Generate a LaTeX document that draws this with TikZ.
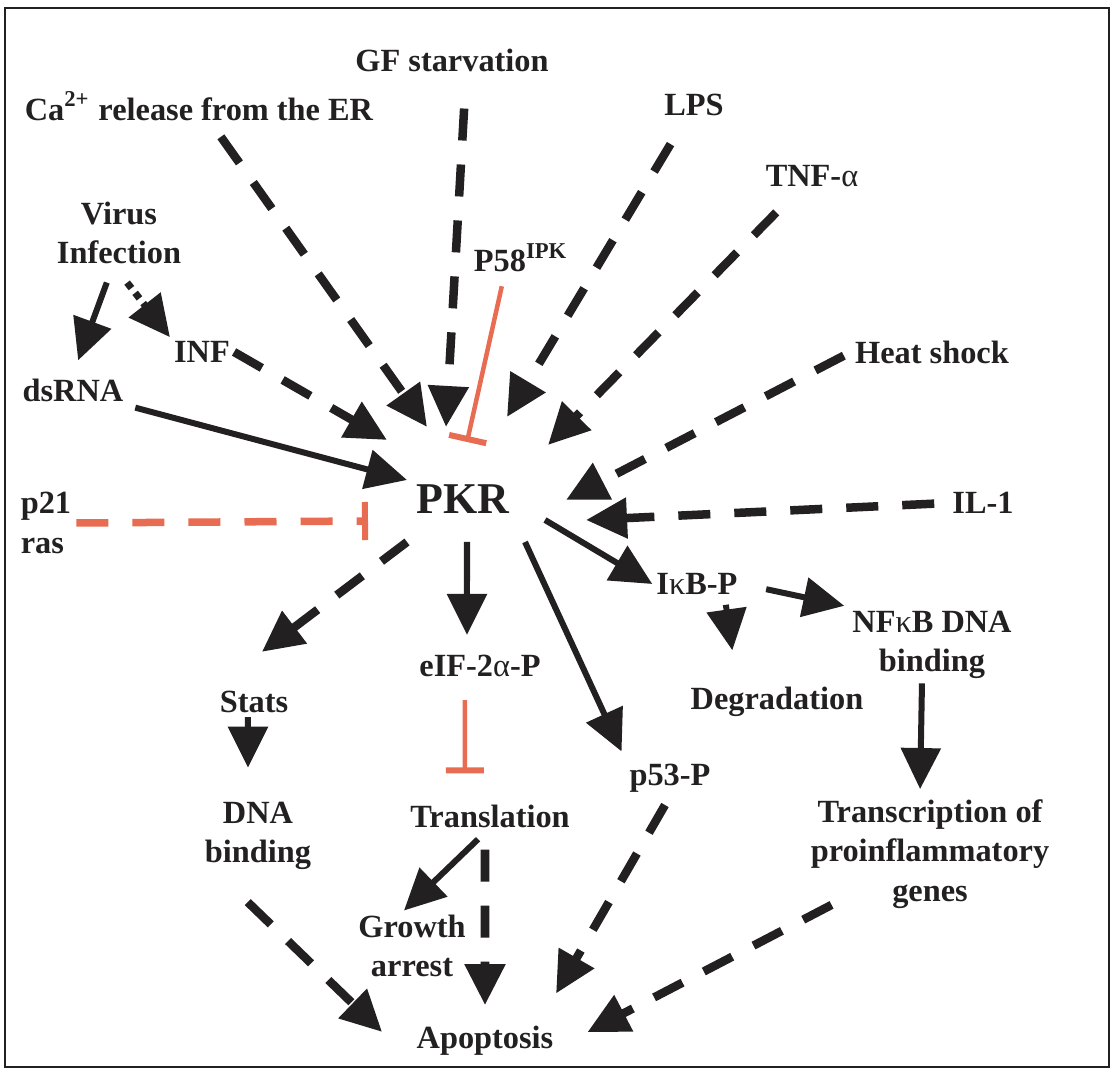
\documentclass[tikz,border=0pt]{standalone}
\usepackage{fontspec}
\setmainfont{Liberation Serif}
\usetikzlibrary{arrows.meta}
\definecolor{inhred}{RGB}{231,108,82}
\definecolor{ink}{RGB}{34,32,32}
\begin{document}
\begin{tikzpicture}[x=0.01cm,y=-0.01cm,
  lbl/.style={inner sep=1pt,text=ink,font=\fontsize{9.2}{11.3}\selectfont\bfseries,align=center},
  act/.style={draw=ink,line width=0.06cm,-{Triangle[length=0.41cm,width=0.39cm]}},
  dact/.style={act,line width=0.085cm,dash pattern=on 0.32cm off 0.24cm},
  dotact/.style={act,line width=0.07cm,dash pattern=on 0.07cm off 0.06cm},
  inh/.style={draw=inhred,line width=0.045cm,-{Bar[width=0.38cm,line width=0.06cm]}},
  dinh/.style={inh,line width=0.075cm,dash pattern=on 0.32cm off 0.24cm}]
\fill[white] (0,0) rectangle (1111,1071);
\useasboundingbox (0,0) rectangle (1111,1071);
\draw[line width=0.02cm,ink] (5,8) rectangle (1109,1067);
\node (ca) at (199,106) [lbl] {Ca\textsuperscript{2+} release from the ER};
\node (gf) at (452,60) [lbl] {GF starvation};
\node (lps) at (694,105) [lbl] {LPS};
\node (tnf) at (812,176) [lbl] {TNF-{\mdseries α}};
\node (vi) at (119,233) [lbl] {Virus\\Infection};
\node (inf) at (202,352) [lbl] {INF};
\node (ds) at (73,390) [lbl] {dsRNA};
\node (p58) at (521,258) [lbl] {P58\textsuperscript{IPK}};
\node (hs) at (932,352) [lbl] {Heat shock};
\node (pkr) at (463,499) [lbl,font=\fontsize{12.5}{14}\selectfont\bfseries] {PKR};
\node (il) at (983,503) [lbl] {IL-1};
\node (p21) at (46,523) [lbl,align=left] {p21\\ras};
\node (ikb) at (697,584) [lbl] {I{\mdseries κ}B-P};
\node (nf) at (932,645) [lbl] {NF{\mdseries κ}B DNA\\binding};
\node (eif) at (480,666) [lbl] {eIF-2{\mdseries α}-P};
\node (stats) at (254,702) [lbl] {Stats};
\node (deg) at (777,702) [lbl] {Degradation};
\node (p53) at (670,778) [lbl] {p53-P};
\node (dna) at (258,836) [lbl] {DNA\\binding};
\node (tl) at (490,816) [lbl] {Translation};
\node (tr) at (930,854) [lbl] {Transcription of\\proinflammatory\\genes};
\node (ga) at (412,946) [lbl] {Growth\\arrest};
\node (ap) at (485,1041) [lbl] {Apoptosis};
\coordinate (tCa) at (427,427);
\coordinate (tGF) at (446,427);
\coordinate (tP58) at (467,442);
\coordinate (tLPS) at (507,417);
\coordinate (tTNF) at (548,445);
\coordinate (tHS) at (566,500);
\coordinate (tIL) at (586,520);
\coordinate (tINF) at (387,440);
\coordinate (tDS) at (407,480);
\coordinate (tP21) at (368,521);
\coordinate (sSt) at (407,542);
\coordinate (sEif) at (467,542);
\coordinate (sP53) at (525,542);
\coordinate (sIkb) at (545,520);
\draw[dact,shorten <=0.15cm] (ca) -- (tCa);
\draw[dact,shorten <=0.33cm] ([xshift=0.14cm]gf.south) -- (tGF);
\draw[dact,shorten <=0.28cm] (lps) -- (tLPS);
\draw[dact,shorten <=0.3cm] (tnf) -- (tTNF);
\draw[dact,shorten <=0.08cm] (hs.west) -- (tHS);
\draw[dact,shorten <=0.14cm] (il.west) -- (tIL);
\draw[dact] (inf.east) -- (tINF);
\draw[act,shorten <=0.08cm] (ds.south east) -- (tDS);
\draw[act,shorten <=0.15cm,shorten >=0.15cm] ([xshift=-0.07cm]vi.south) -- (ds.north);
\draw[dotact,shorten <=0.18cm] ([xshift=-0.03cm]vi.south) -- (inf.north west);
\draw[inh,shorten <=0.1cm] ([xshift=-0.17cm]p58.south) -- (tP58);
\draw[dinh,shorten <=0.01cm] (p21.east) -- (tP21);
\draw[dact,shorten >=0.58cm] (sSt) -- (stats.north west);
\draw[act,shorten >=0.16cm] (sEif) -- ([xshift=-0.13cm]eif.north);
\draw[act,shorten >=0.09cm] (sP53) -- (p53.north west);
\draw[act] (sIkb) -- (ikb.west);
\draw[act,shorten <=0.25cm,shorten >=0.04cm] (ikb.east) -- (nf.north west);
\draw[act,shorten <=0.06cm,shorten >=0.33cm] ([xshift=0.28cm]ikb.south) -- ([xshift=-0.4cm]deg.north);
\draw[act,shorten >=0.06cm] ([xshift=-0.1cm]nf.south) -- ([xshift=-0.1cm]tr.north);
\draw[act,shorten >=0.3cm] ([xshift=-0.06cm]stats.south) -- ([xshift=-0.1cm]dna.north);
\draw[inh,shorten <=0.19cm,shorten >=0.27cm] ([xshift=-0.15cm]eif.south) -- ([xshift=-0.25cm]tl.north);
\draw[act,shorten <=0.11cm] ([xshift=-0.04cm]tl.south) -- ([xshift=-0.08cm]ga.north);
\draw[dact,shorten <=0.18cm,shorten >=0.17cm] ([xshift=-0.05cm]tl.south) -- (ap.north);
\draw[dact,shorten <=0.4cm,shorten >=0.13cm] ([xshift=-0.39cm]dna.south) -- ([xshift=-0.21cm]ap.west);
\draw[dact,shorten <=0.1cm,shorten >=0.33cm] (p53.south) -- ([xshift=-0.18cm]ap.north east);
\draw[dact,shorten >=0.19cm] ([xshift=0.25cm,yshift=0.08cm]tr.south west) -- ([xshift=0.13cm]ap.east);
\end{tikzpicture}
\end{document}
